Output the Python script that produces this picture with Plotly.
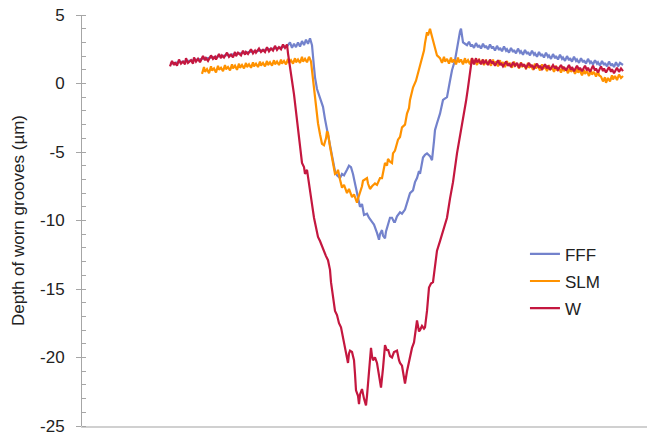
import plotly.graph_objects as go

# Position along the scan (arbitrary units, no tick labels on x axis)
# ---- FFF ----
fff_x = [170, 200, 230, 260, 287, 290, 292, 294, 296, 298, 300, 302, 304, 306, 308, 310, 311, 312, 314, 315, 317, 320, 323, 325, 327, 330, 333, 335, 337, 340, 342, 344, 347, 349, 351, 353, 355, 357, 360, 362, 364, 367, 369, 372, 374, 377, 379, 380, 382, 383, 385, 386, 388, 390, 392, 394, 395, 397, 400, 402, 405, 408, 410, 413, 415, 417, 419, 420, 422, 423, 425, 427, 430, 432, 434, 435, 437, 440, 443, 447, 450, 452, 455, 457, 458, 460, 461, 462, 463, 465, 467,
         469, 471, 472, 474, 476, 478, 479, 481, 483, 485, 486, 488, 490, 492, 493, 495, 497, 499, 500, 502, 504, 506, 507, 509, 511, 513, 514, 516, 518, 520, 521, 523, 525, 527, 528, 530, 532, 534, 535, 537, 539, 541, 542, 544, 546, 548, 549, 551, 553, 555, 556, 558, 560, 562, 563, 565, 567, 569, 570, 572, 574, 576, 577, 579, 581, 583, 584, 586, 588, 590, 591, 593, 595, 597, 598, 600, 602, 604, 605, 607, 609, 611, 612, 614, 616, 618, 620, 623]
fff_y = [1.45, 1.8, 2.1, 2.4, 2.7, 3.0, 2.6, 2.9, 2.65, 3.0, 2.7, 3.1, 2.8, 3.2, 2.9, 3.3, 3.0, 2.8, 1.2, 0.45, -0.4, -1.0, -1.7, -2.6, -3.4, -4.4, -5.8, -6.4, -6.7, -6.9, -6.6, -6.7, -6.3, -6.0, -6.1, -6.6, -7.3, -8.1, -9.0, -8.8, -9.6, -9.5, -9.8, -10.1, -10.3, -10.9, -11.4, -11.0, -10.7, -11.1, -11.3, -10.8, -10.2, -9.8, -9.8, -10.1, -10.1, -9.7, -9.4, -9.5, -9.2, -8.4, -8.0, -7.8, -7.2, -6.9, -6.4, -6.6, -5.8, -5.4, -5.2, -5.1, -5.3, -5.6, -4.2, -3.4, -2.9, -2.2, -1.2, -1.0, 0.2, 0.97, 1.7, 2.6, 3.2, 3.8, 4.0, 3.6, 3.0, 2.9, 2.8,
         3.05, 2.7, 2.85, 2.6, 2.95, 2.65, 2.8, 2.55, 2.9, 2.6, 2.75, 2.5, 2.85, 2.55, 2.7, 2.4, 2.75, 2.45, 2.6, 2.35, 2.7, 2.4, 2.5, 2.25, 2.6, 2.3, 2.45, 2.2, 2.55, 2.25, 2.35, 2.1, 2.45, 2.15, 2.3, 2.05, 2.4, 2.1, 2.2, 1.95, 2.3, 2.0, 2.15, 1.9, 2.25, 1.95, 2.05, 1.8, 2.15, 1.85, 2.0, 1.75, 2.1, 1.8, 1.9, 1.65, 2.0, 1.7, 1.85, 1.6, 1.95, 1.65, 1.75, 1.5, 1.85, 1.55, 1.7, 1.45, 1.8, 1.5, 1.6, 1.4, 1.7, 1.45, 1.55, 1.3, 1.65, 1.35, 1.5, 1.25, 1.6, 1.3, 1.45, 1.2, 1.55, 1.25, 1.5, 1.35]

# ---- SLM ----
slm_x = [202, 204, 205, 207, 209, 211, 212, 214, 216, 218, 219, 221, 223, 225, 226, 228, 230, 232, 233, 235, 237, 239, 240, 242, 244, 246, 247, 249, 251, 253, 254, 256, 258, 260, 261, 263, 265, 267, 268, 270, 272, 274, 275, 277, 279, 281, 282, 284, 286, 288, 289, 291, 293, 295, 296, 298, 300, 302, 303, 305, 307, 309, 311,
         313, 316, 318, 320, 322, 324, 326, 327, 328, 330, 332, 335, 337, 338, 340, 342, 344, 347, 349, 352, 354, 357, 358, 360, 362, 363, 365, 367, 368, 370, 372, 375, 377, 380, 382, 385, 387, 388, 390, 392, 393, 395, 398, 400, 402, 405, 407, 409, 410, 413, 416, 418, 420, 422, 424, 425, 427, 428, 430, 431, 433, 435, 437, 440,
         442, 444, 445, 447, 449, 451, 452, 454, 456, 458, 459, 461, 463, 465, 466, 468, 470, 472, 473, 475, 477, 479, 480, 482, 484, 486, 487, 489, 491, 493, 494, 496, 498, 500, 501, 503, 505, 507, 508, 510, 512, 514, 515, 517, 519, 521, 522, 524, 526, 528, 529, 531, 533, 535, 536, 538, 540, 542, 543, 545, 547, 549, 550, 552, 554, 556, 557, 559, 561, 563, 564, 566, 568, 570, 571, 573, 575, 577, 578, 580, 582, 584, 585, 587, 589, 591, 592, 594, 596, 598, 599, 601, 603, 605, 606, 608, 610, 612, 613, 615, 617, 619, 621, 623]
slm_y = [0.7, 1.2, 0.85, 1.05, 0.75, 1.25, 0.95, 1.1, 0.8, 1.3, 1.0, 1.15, 0.9, 1.35, 1.05, 1.2, 0.95, 1.4, 1.1, 1.3, 1.0, 1.45, 1.15, 1.35, 1.1, 1.5, 1.2, 1.4, 1.15, 1.55, 1.25, 1.45, 1.2, 1.6, 1.3, 1.5, 1.25, 1.65, 1.35, 1.55, 1.3, 1.7, 1.4, 1.6, 1.35, 1.75, 1.45, 1.65, 1.4, 1.8, 1.5, 1.7, 1.45, 1.85, 1.55, 1.75, 1.5, 1.95, 1.6, 1.8, 1.55, 1.95, 1.6,
         0.25, -1.45, -2.9, -3.7, -4.4, -4.5, -4.0, -3.5, -3.6, -4.6, -5.4, -6.6, -6.5, -6.3, -7.0, -7.6, -7.4, -8.0, -7.7, -8.3, -8.1, -8.7, -8.4, -8.0, -7.5, -7.1, -7.0, -6.9, -7.3, -7.7, -7.5, -7.3, -7.4, -6.9, -6.9, -5.8, -6.0, -5.5, -5.7, -5.8, -5.1, -4.9, -4.1, -3.9, -3.2, -3.0, -2.2, -1.8, -1.2, -0.3, 0.2, 0.75, 1.1, 1.7, 2.4, 2.95, 3.75, 3.5, 4.0, 3.7, 3.2, 2.65, 2.05, 1.85,
         1.5, 1.95, 1.6, 1.8, 1.45, 1.9, 1.55, 1.75, 1.4, 1.9, 1.55, 1.75, 1.4, 1.85, 1.5, 1.7, 1.4, 1.85, 1.5, 1.7, 1.35, 1.8, 1.45, 1.65, 1.35, 1.75, 1.4, 1.6, 1.3, 1.75, 1.4, 1.6, 1.25, 1.7, 1.35, 1.55, 1.2, 1.65, 1.3, 1.5, 1.15, 1.6, 1.25, 1.45, 1.1, 1.55, 1.2, 1.4, 1.05, 1.5, 1.15, 1.35, 1.0, 1.45, 1.1, 1.3, 0.95, 1.4, 1.05, 1.25, 0.9, 1.35, 1.0, 1.2, 0.85, 1.3, 0.95, 1.15, 0.8, 1.25, 0.9, 1.1, 0.75, 1.2, 0.85, 1.05, 0.7, 1.1, 0.8, 0.95, 0.6, 1.0, 0.7, 0.9, 0.55, 0.95, 0.65, 0.85, 0.5, 0.9, 0.6, 0.5, 0.15, 0.45, 0.05, 0.4, 0.15, 0.6, 0.3, 0.55, 0.25, 0.65, 0.4, 0.55]

# ---- W ----
w_x = [170, 172, 174, 175, 177, 179, 181, 183, 185, 186, 188, 191, 193, 194, 196, 198, 200, 203, 205, 206, 208, 211, 213, 215, 216, 219, 221, 222, 224, 227, 229, 231, 233, 235, 236, 238, 241, 243, 245, 246, 248, 251, 253, 255, 256, 259, 261, 263, 265, 267, 269, 271, 273, 275, 277, 279, 281, 283, 285, 287,
       288, 290, 292, 294, 296, 298, 300, 302, 304, 305, 307, 309, 310, 312, 314, 316, 318, 320, 322, 324, 326, 328, 330, 331, 332, 334, 335, 337, 339, 341, 343, 345, 346, 348, 349, 350, 352, 354, 355, 356, 358, 359, 360, 362, 364, 366, 367, 368, 370, 371, 372, 373, 375, 377, 379, 381, 383, 385, 387, 388, 390, 392, 394, 397, 399, 400, 402, 404, 405, 407, 408, 410, 412, 414, 416, 417, 419, 420, 422, 424, 425, 427, 429, 431, 433, 435, 437, 440, 443, 447, 450, 453, 457, 460, 463, 466, 468, 470, 472,
       474, 476, 477, 479, 481, 483, 484, 486, 488, 490, 492, 493, 495, 498, 500, 501, 503, 506, 508, 509, 511, 513, 515, 517, 519, 521, 523, 524, 526, 529, 531, 532, 534, 537, 539, 540, 542, 545, 547, 548, 550, 553, 555, 556, 558, 561, 563, 564, 566, 569, 571, 572, 574, 577, 579, 580, 582, 585, 587, 588, 590, 593, 595, 596, 598, 601, 603, 604, 606, 609, 611, 612, 614, 617, 619, 621, 623]
w_y = [1.25, 1.65, 1.35, 1.55, 1.3, 1.75, 1.45, 1.6, 1.4, 1.85, 1.5, 1.7, 1.45, 1.9, 1.6, 1.8, 1.55, 2.0, 1.7, 1.85, 1.65, 2.05, 1.8, 1.95, 1.75, 2.15, 1.85, 2.05, 1.9, 2.25, 1.95, 2.1, 1.9, 2.3, 2.0, 2.25, 2.05, 2.4, 2.1, 2.3, 2.15, 2.5, 2.2, 2.4, 2.25, 2.55, 2.3, 2.45, 2.3, 2.65, 2.35, 2.55, 2.4, 2.75, 2.45, 2.65, 2.5, 2.85, 2.6, 2.85,
       2.2, 1.0, 0.2, -0.8, -2.0, -3.2, -4.5, -5.8, -6.1, -6.6, -6.3, -7.2, -7.8, -8.8, -9.8, -10.6, -11.2, -11.5, -11.9, -12.3, -12.6, -12.9, -13.6, -14.5, -15.1, -16.2, -16.6, -16.9, -17.5, -17.8, -18.6, -19.5, -19.8, -20.4, -19.7, -19.5, -19.6, -20.2, -21.2, -22.4, -22.8, -23.4, -22.7, -22.3, -23.0, -23.5, -22.8, -21.9, -20.0, -19.3, -19.9, -20.2, -20.0, -20.4, -21.3, -22.2, -20.8, -19.1, -19.5, -19.4, -19.9, -20.0, -19.6, -19.5, -20.2, -20.4, -20.6, -21.4, -21.9, -21.0, -20.6, -19.8, -19.3, -18.9, -17.9, -17.3, -18.1, -18.0, -17.7, -17.9, -17.8, -16.6, -14.9, -14.6, -14.5, -13.4, -12.2, -11.5, -10.7, -9.8, -8.4, -7.2, -5.1, -3.9, -2.5, -1.3, -0.3, 0.9, 1.85,
       1.4, 1.85, 1.55, 1.7, 1.4, 1.75, 1.5, 1.65, 1.35, 1.75, 1.45, 1.6, 1.3, 1.7, 1.35, 1.5, 1.25, 1.6, 1.3, 1.45, 1.2, 1.55, 1.3, 1.5, 1.15, 1.5, 1.25, 1.4, 1.15, 1.5, 1.2, 1.35, 1.1, 1.45, 1.15, 1.3, 1.05, 1.4, 1.1, 1.3, 1.0, 1.35, 1.1, 1.25, 1.0, 1.35, 1.05, 1.2, 0.95, 1.35, 1.0, 1.2, 0.9, 1.3, 1.0, 1.15, 0.9, 1.3, 0.95, 1.15, 0.85, 1.3, 0.95, 1.1, 0.8, 1.25, 0.9, 1.1, 0.8, 1.2, 0.85, 1.05, 0.75, 1.15, 0.85, 1.1, 0.9]

series_names = ["FFF", "SLM", "W"]
series_colors = ["#7382CC", "#FF9200", "#C4173F"]
y_ticks = [5, 0, -5, -10, -15, -20, -25]
y_ticktext = ["5", "0", "-5", "-10", "-15", "-20", "-25"]

fig = go.Figure()
for name, xs, ys, col in zip(series_names, [fff_x, slm_x, w_x], [fff_y, slm_y, w_y], series_colors):
    fig.add_trace(go.Scatter(x=[v - 82 for v in xs], y=ys, mode="lines", name=name,
                             legendgroup=name, line=dict(color=col, width=2.2)))

font = "Liberation Sans, Arial, sans-serif"
fig.update_layout(
    width=647, height=439,
    margin=dict(l=82, r=0, t=15, b=13),
    paper_bgcolor="white", plot_bgcolor="white",
    font=dict(family=font, size=17, color="#222222"),
    showlegend=True,
    legend=dict(x=0.784, y=0.352, xanchor="left", yanchor="middle",
                bgcolor="rgba(0,0,0,0)", font=dict(size=17), tracegroupgap=2),
    xaxis=dict(range=[0, 565], showticklabels=False, ticks="", showgrid=False,
               zeroline=False, showline=True, linecolor="#D0D0D0", linewidth=2,
               automargin=False),
    yaxis=dict(range=[-25, 5], tickvals=y_ticks, ticktext=y_ticktext, ticks="outside", ticklen=5,
               tickcolor="#A6A6A6", showgrid=False, zeroline=False, showline=True,
               linecolor="#A6A6A6", linewidth=1, ticklabelstandoff=8, automargin=False,
               minor=dict(dtick=1, ticks="inside", ticklen=4, tickcolor="#A6A6A6"),
               title=dict(text="Depth of worn grooves (µm)", standoff=11,
                          font=dict(size=17))),
)

fig.write_html("out.html", config={"displayModeBar": False},
               post_script="document.body.style.margin='0';document.body.style.overflow='hidden';")
